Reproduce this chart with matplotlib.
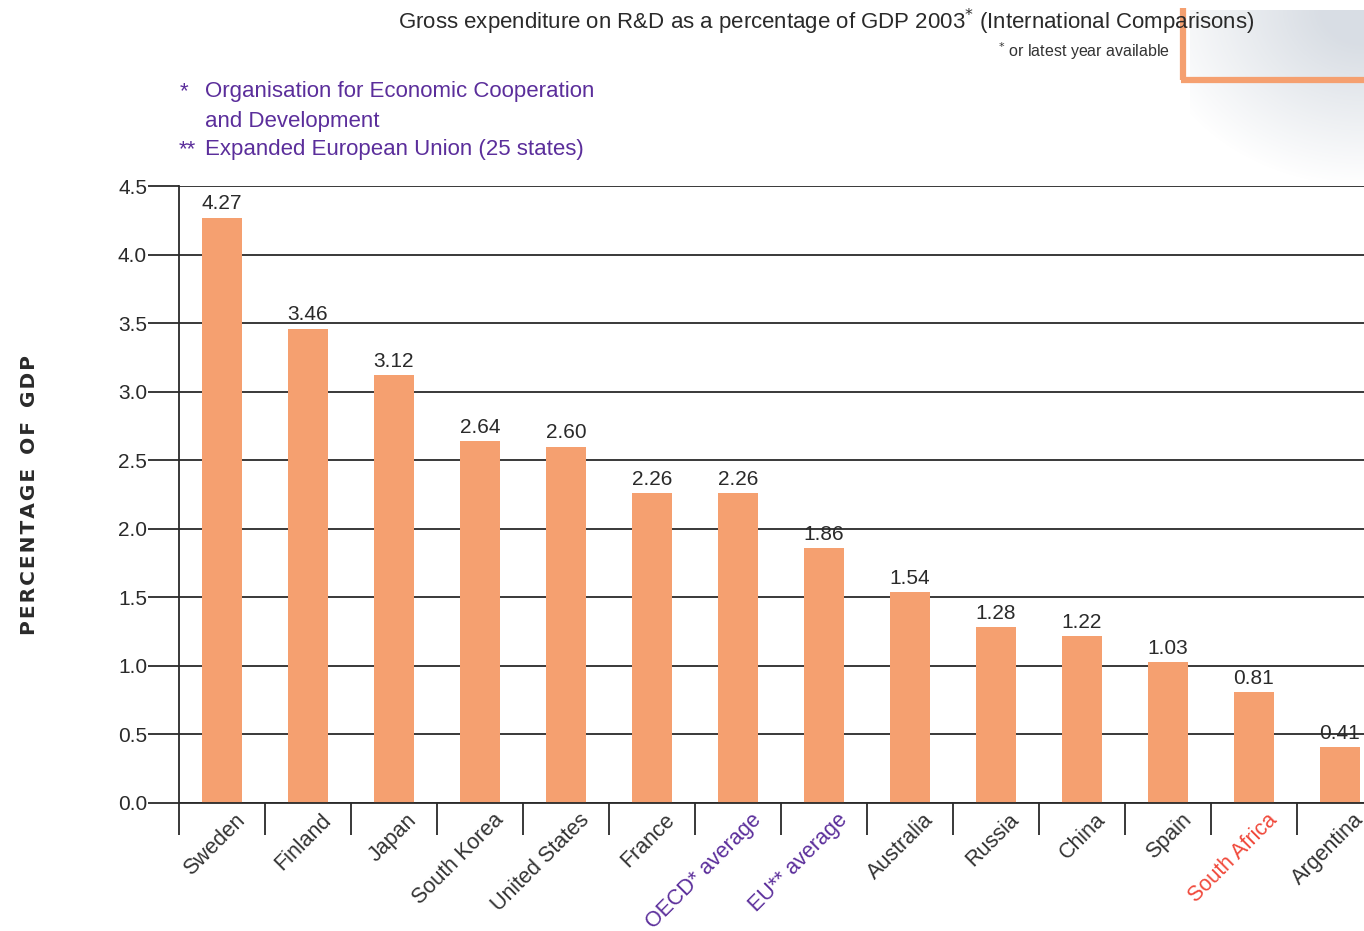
import numpy as np
import matplotlib
matplotlib.use('Agg')
import matplotlib.pyplot as plt
from matplotlib.lines import Line2D
from matplotlib.transforms import ScaledTranslation

plt.rcParams['font.family'] = ['Liberation Sans', 'DejaVu Sans']

# data
countries = ['Sweden', 'Finland', 'Japan', 'South Korea', 'United States', 'France',
             'OECD* average', 'EU** average', 'Australia', 'Russia', 'China', 'Spain',
             'South Africa', 'Argentina']
values = [4.27, 3.46, 3.12, 2.64, 2.60, 2.26, 2.26, 1.86, 1.54, 1.28, 1.22, 1.03, 0.81, 0.41]
yticks = [0.0, 0.5, 1.0, 1.5, 2.0, 2.5, 3.0, 3.5, 4.0, 4.5]

BAR = '#F5A070'
PURPLE = '#5B2E9B'
RED = '#F0483A'
INK = '#2a2a2a'
label_colors = {'OECD* average': PURPLE, 'EU** average': PURPLE, 'South Africa': RED}

W, H = 1364, 931
fig = plt.figure(figsize=(W / 100, H / 100), dpi=100)
fig.patch.set_facecolor('white')

# grey blur in the top right corner
gx = fig.add_axes([1190 / W, 1 - 180 / H, 174 / W, 170 / H])
yy, xx = np.mgrid[0:1:120j, 0:1:120j]
alpha = np.clip(1.25 - np.hypot(1 - xx, yy * 1.2), 0, 1) * 0.5
img = np.zeros((120, 120, 4))
img[..., 0] = 0.70
img[..., 1] = 0.74
img[..., 2] = 0.79
img[..., 3] = alpha
gx.imshow(img, aspect='auto', interpolation='bilinear')
gx.axis('off')

# orange corner frame
fig.add_artist(Line2D([1183 / W, 1183 / W], [1 - 8 / H, 1 - 80 / H], transform=fig.transFigure,
                      color=BAR, lw=4.5, solid_capstyle='butt'))
fig.add_artist(Line2D([1181 / W, 1.0], [1 - 80 / H, 1 - 80 / H], transform=fig.transFigure,
                      color=BAR, lw=4.5, solid_capstyle='butt'))

ax = fig.add_axes([179 / W, 1 - 803 / H, 1204 / W, (803 - 186) / H])
x = np.arange(len(countries))
ax.bar(x, values, width=0.465, color=BAR, zorder=2)

for xi, v in zip(x, values):
    ax.annotate('%.2f' % v, (xi, v), xytext=(0, 3), textcoords='offset points',
                ha='center', va='bottom', fontsize=15, color=INK)

ax.set_xlim(-0.5, len(countries) - 0.5)
ax.set_ylim(0, 4.5)
ax.set_yticks(yticks)
ax.set_yticklabels(['%.1f' % t for t in yticks], fontsize=15, color=INK)
ax.tick_params(axis='y', length=22, width=1.3, color=INK, pad=1)
ax.yaxis.grid(True, color=INK, lw=1.3, zorder=0)
ax.set_axisbelow(True)

ax.set_xticks(x)
ax.set_xticklabels(countries, fontsize=15.5, rotation=45, ha='right', va='center',
                   rotation_mode='anchor')
ax.set_xticks(np.arange(-0.5, len(countries), 1.0), minor=True)
ax.tick_params(axis='x', which='major', length=0, pad=10)
ax.tick_params(axis='x', which='minor', length=23, width=1.3, color=INK, direction='out')
shift = ScaledTranslation(0.2, 0, fig.dpi_scale_trans)
for lab in ax.get_xticklabels():
    lab.set_color(label_colors.get(lab.get_text(), '#333333'))
    lab.set_transform(lab.get_transform() + shift)

for side in ['top', 'right']:
    ax.spines[side].set_visible(False)
for side in ['left', 'bottom']:
    ax.spines[side].set_color(INK)
    ax.spines[side].set_linewidth(1.3)

# y axis label, spaced out
ylab = '\u200a'.join('PERCENTAGE OF GDP').replace('\u200a \u200a', '  ')
fig.text(30 / W, 1 - 495 / H, ylab, rotation=90, ha='center', va='center',
         fontsize=14.5, fontweight='bold', color=INK, family=['DejaVu Sans'])

# title and notes
fig.text(398 / W, 1 - 22 / H, r'Gross expenditure on R&D as a percentage of GDP 2003$^{*}$ (International Comparisons)',
         ha='left', va='center', fontsize=16, color=INK, zorder=5)
fig.text(1170 / W, 1 - 51 / H, r'$^{*}$ or latest year available', ha='right', va='center',
         fontsize=11.5, color='#333333', family=['Liberation Sans Narrow', 'Liberation Sans'])

fig.text(180 / W, 1 - 92 / H, '*', ha='left', va='center', fontsize=16, color=PURPLE)
fig.text(205 / W, 1 - 92 / H, 'Organisation for Economic Cooperation', ha='left', va='center',
         fontsize=16, color=PURPLE)
fig.text(205 / W, 1 - 121 / H, 'and Development', ha='left', va='center', fontsize=16, color=PURPLE)
fig.text(179 / W, 1 - 150 / H, '**', ha='left', va='center', fontsize=16, color=PURPLE)
fig.text(205 / W, 1 - 150 / H, 'Expanded European Union (25 states)', ha='left', va='center',
         fontsize=16, color=PURPLE)

fig.savefig('out.png', dpi=100)
